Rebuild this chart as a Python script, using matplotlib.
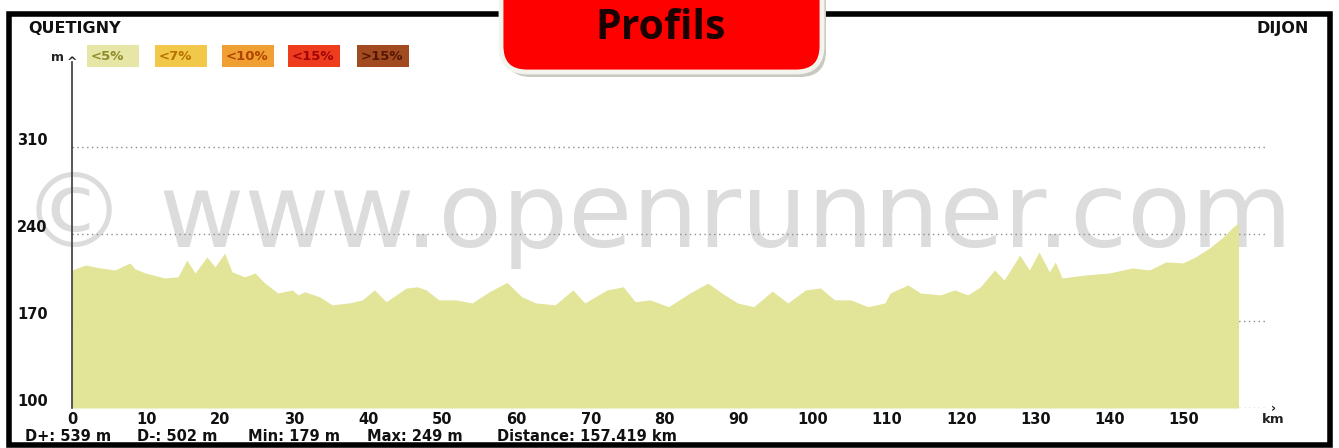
import matplotlib
matplotlib.use("Agg")
import matplotlib.pyplot as plt
from matplotlib.patches import FancyBboxPatch, Rectangle
from matplotlib.transforms import IdentityTransform

# ---------------- data ----------------
dist_km = [0, 1.8, 3.5, 5.8, 7.8, 8.5, 9.9, 12.5, 14.3, 15.5, 16.6, 18.2, 19.3, 20.6,
           21.6, 23.3, 24.7, 26.0, 27.8, 29.7, 30.5, 31.4, 33.4, 35.1, 37.4, 39.2,
           40.8, 42.4, 45.1, 46.6, 47.8, 49.5, 51.8, 54.0, 56.3, 58.7, 60.7, 62.6,
           65.2, 67.6, 69.2, 72.2, 74.4, 76.0, 78.0, 80.5, 83.4, 85.8, 87.7, 89.8,
           92.0, 94.5, 96.6, 99.0, 101.0, 102.9, 105.1, 107.4, 109.7, 110.4, 112.8,
           114.5, 117.2, 119.1, 120.9, 122.6, 124.5, 125.8, 127.9, 129.2, 130.5,
           131.9, 132.7, 133.6, 136.7, 140.0, 143.1, 145.4, 147.6, 149.9, 151.6,
           153.5, 155.2, 156.6, 157.419]
elev_m = [211, 215, 213, 211, 216.7, 212, 208.6, 204.6, 205.5, 219, 208.6, 221.5, 213.5,
          224.5, 209.5, 205.5, 208.6, 200.6, 192.5, 195, 191, 193.5, 189.5, 183, 184.5,
          187, 195, 185.5, 196.5, 197.5, 195, 187, 187, 184.5, 193.5, 201, 189.5, 184.5,
          183, 195, 184.5, 195, 197.5, 185.5, 187, 181.5, 192.5, 200.5, 192.5, 184.5,
          181.5, 194, 184.5, 195, 196.5, 187, 187, 181.5, 184.5, 192.5, 199,
          192.5, 191, 195, 191, 197.5, 211, 203, 223, 211, 225.5,
          209.5, 217.5, 204.6, 207, 208.6, 212.7, 211, 217.5, 216.7, 221.5,
          228.7, 236.8, 245, 249]

x_ticks = list(range(0, 151, 10))
y_ticks = [310, 240, 170, 100]
legend_labels = ["<5%", "<7%", "<10%", "<15%", ">15%"]
legend_colors = ["#E6E6A6", "#F2C84A", "#F0A032", "#EE3C1E", "#A24A20"]
legend_text_colors = ["#8E8C2A", "#B87000", "#B04400", "#A00606", "#561606"]
start_name = "QUETIGNY"
end_name = "DIJON"
stats = ["D+: 539 m", "D-: 502 m", "Min: 179 m", "Max: 249 m", "Distance: 157.419 km"]
title = "Profils"
watermark = "\u00a9 www.openrunner.com"

# ---------------- figure ----------------
W, H = 1339, 448
fig = plt.figure(figsize=(W / 100, H / 100), dpi=100)
fig.patch.set_facecolor("white")
ID = IdentityTransform()
FONT = "DejaVu Sans"

PX_KM = 7.41
PX_M = 1.243
ax_left, ax_bottom_img, ax_w, ax_top_img = 72, 408, 1200, 62
ax = fig.add_axes([ax_left / W, (H - ax_bottom_img) / H, ax_w / W,
                   (ax_bottom_img - ax_top_img) / H])
ax.set_xlim(0, ax_w / PX_KM)
ax.set_ylim(100, 100 + (ax_bottom_img - ax_top_img) / PX_M)
ax.patch.set_visible(False)

# watermark (under the profile)
ax.text(657, H - 247, watermark, transform=ID, fontsize=75, family="DejaVu Sans",
        color="#DCDCDC", ha="center", va="baseline", zorder=0.5, clip_on=False)

# dotted grid lines
ax.hlines([310, 240, 170, 100], 0, 161, colors="#8C8C8C",
          linestyles=(0, (1, 2.5)), lw=1.0, zorder=1)

# profile
ax.fill_between(dist_km, elev_m, 100, color="#E2E498", lw=0, zorder=2)

for s in ["top", "right", "bottom"]:
    ax.spines[s].set_visible(False)
ax.spines["left"].set_color("#3A3A3A")
ax.spines["left"].set_linewidth(1.2)

ax.set_yticks([])
for v in y_ticks:
    ax.text(-(72 - 17) / ax_w, v + 5, str(v), transform=ax.get_yaxis_transform(),
            ha="left", va="center", fontsize=10.5, fontweight="bold", family=FONT,
            color="#111111", clip_on=False, zorder=3)

ax.set_xticks(x_ticks)
ax.set_xticklabels([str(t) for t in x_ticks], fontsize=10.5, fontweight="bold",
                   family=FONT, color="#111111")
ax.tick_params(axis="x", length=0, pad=3)

# axis decorations
ax.text(0, 1.0, "^", transform=ax.transAxes, ha="center", va="center",
        fontsize=9, fontweight="bold", family=FONT, color="#222222", clip_on=False)
fig.text(57, H - 57, "m", transform=ID, ha="center", va="center",
         fontsize=9, fontweight="bold", family=FONT, color="#222222")
fig.text(1273, H - 419, "km", transform=ID, ha="center", va="center",
         fontsize=9.5, fontweight="bold", family=FONT, color="#222222")
fig.text(1273, H - 408, "\u203a", transform=ID, ha="center", va="center",
         fontsize=9, fontweight="bold", family=FONT, color="#222222")

# legend boxes
box_x = [87, 155, 222, 288, 357]
for x0, lab, c, tc in zip(box_x, legend_labels, legend_colors, legend_text_colors):
    fig.patches.append(Rectangle((x0, H - 67), 52, 22, transform=ID,
                                 facecolor=c, edgecolor="none", zorder=3))
    fig.text(x0 + 4, H - 56, lab, transform=ID, ha="left", va="center",
             fontsize=9.5, fontweight="bold", family=FONT, color=tc, zorder=4)

# place names
fig.text(28, H - 28, start_name, transform=ID, ha="left", va="center",
         fontsize=11.5, fontweight="bold", family=FONT, color="#111111")
fig.text(1309, H - 28, end_name, transform=ID, ha="right", va="center",
         fontsize=11.5, fontweight="bold", family=FONT, color="#111111")

# stats line
stat_x = [25, 137, 248, 367, 497]
for sx, st in zip(stat_x, stats):
    fig.text(sx, H - 436, st, transform=ID, ha="left", va="center",
             fontsize=10.5, fontweight="bold", family=FONT, color="#111111")

# outer frame
fig.patches.append(Rectangle((9, H - 445), 1321, 445 - 14, transform=ID,
                             facecolor="none", edgecolor="#000000", lw=4, zorder=5))

# title box
fig.patches.append(FancyBboxPatch((505, H - 77), 321, 120, transform=ID,
                                  boxstyle="round,pad=0,rounding_size=26",
                                  facecolor="#C9C9C2", edgecolor="none", zorder=6))
fig.patches.append(FancyBboxPatch((501, H - 72), 321, 120, transform=ID,
                                  boxstyle="round,pad=0,rounding_size=26",
                                  facecolor="#FF0000", edgecolor="#F4F4EE", lw=3.5,
                                  zorder=7))
fig.text(661, H - 28, title, transform=ID, ha="center", va="center", fontsize=29.5,
         fontweight="bold", family="Open Sans", color="#1A0000", zorder=8)

fig.savefig("out.png", dpi=100, facecolor="white")
